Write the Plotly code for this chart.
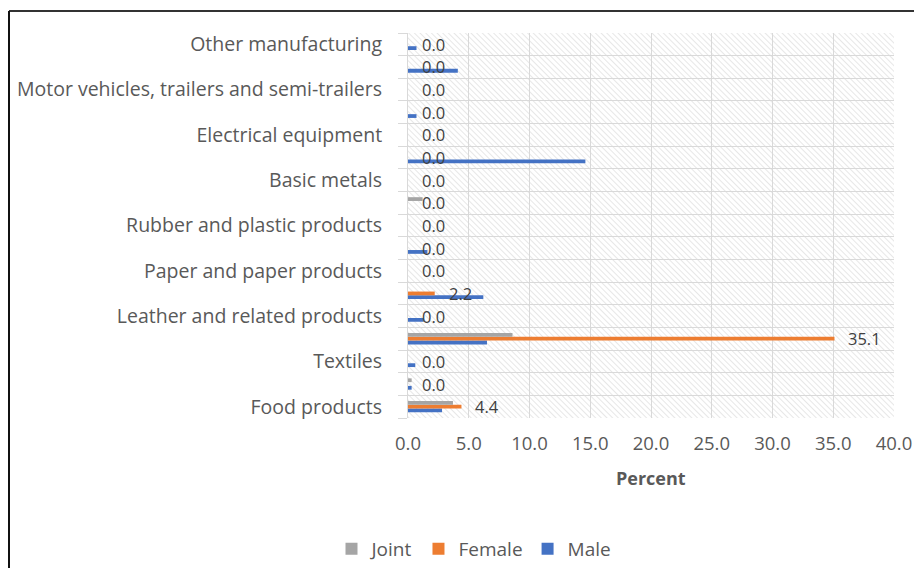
import base64
import plotly.graph_objects as go

# Manufacturing sub-sectors, bottom to top
categories = [
    "Food products",
    "Beverages",
    "Textiles",
    "Wearing apparel",
    "Leather and related products",
    "Wood and products of wood",
    "Paper and paper products",
    "Printing and recorded media",
    "Rubber and plastic products",
    "Other non-metallic mineral products",
    "Basic metals",
    "Fabricated metal products",
    "Electrical equipment",
    "Machinery and equipment",
    "Motor vehicles, trailers and semi-trailers",
    "Furniture",
    "Other manufacturing",
]
# only every second sector is labelled on the axis
labelled = categories[::2]

joint = [3.7, 0.3, 0.0, 8.6, 0.0, 0.0, 0.0, 0.0, 0.0, 1.2, 0.0, 0.0, 0.0, 0.0, 0.0, 0.0, 0.0]
female = [4.4, 0.0, 0.0, 35.1, 0.0, 2.2, 0.0, 0.0, 0.0, 0.0, 0.0, 0.0, 0.0, 0.0, 0.0, 0.0, 0.0]
male = [2.8, 0.3, 0.6, 6.5, 1.3, 6.2, 0.0, 1.6, 0.0, 0.0, 0.0, 14.6, 0.0, 0.7, 0.0, 4.1, 0.7]

x_ticks = [0, 5, 10, 15, 20, 25, 30, 35, 40]

W, H = 914, 568
ML, MR, MT, MB = 408, 20, 33, 150
PW, PH = W - ML - MR, H - MT - MB

TXT = "#595959"
GRID = "#d9d9d9"
FONT = "Open Sans"

fig = go.Figure()

# Male drawn first so it sits at the bottom of each group
fig.add_trace(go.Bar(y=categories, x=male, name="Male", orientation="h",
                     marker=dict(color="#4472C4", line=dict(width=0))))
fig.add_trace(go.Bar(y=categories, x=female, name="Female", orientation="h",
                     marker=dict(color="#ED7D31", line=dict(width=0))))
fig.add_trace(go.Bar(y=categories, x=joint, name="Joint", orientation="h",
                     marker=dict(color="#A5A5A5", line=dict(width=0))))

# helper axis carrying the category-boundary grid lines
fig.add_trace(go.Scatter(x=[], y=[], yaxis="y2", showlegend=False, hoverinfo="skip"))

# value labels for the female series (middle bar of each group)
value_labels = [
    dict(x=v, y=c, xref="x", yref="y", text=f"{v:.1f}", showarrow=False,
         xanchor="left", yanchor="middle", xshift=12,
         font=dict(family=FONT, size=16.5, color="#404040"))
    for c, v in zip(categories, female)
]

# diagonal hatch for the plotting area
svg = (f'<svg xmlns="http://www.w3.org/2000/svg" width="{PW}" height="{PH}">'
       '<defs><pattern id="h" width="4" height="4" patternUnits="userSpaceOnUse" '
       'patternTransform="rotate(-45)">'
       '<line x1="0" y1="0" x2="0" y2="4" stroke="#cfcfcf" stroke-width="1"/>'
       '</pattern></defs>'
       '<rect width="100%" height="100%" fill="url(#h)"/></svg>')
hatch = "data:image/svg+xml;base64," + base64.b64encode(svg.encode()).decode()


def px_x(p):
    return (p - ML) / PW


def px_y(p):
    return (H - MB - p) / PH


fig.update_layout(
    width=W, height=H,
    margin=dict(l=ML, r=MR, t=MT, b=MB, autoexpand=False),
    paper_bgcolor="white",
    plot_bgcolor="rgba(0,0,0,0)",
    barmode="group",
    bargap=0.5,
    bargroupgap=0,
    font=dict(family=FONT, size=18, color=TXT),
    xaxis=dict(
        range=[0, 40], tickvals=x_ticks,
        ticktext=[f"{v:.1f}" for v in x_ticks],
        showgrid=True, gridcolor=GRID, gridwidth=1,
        zeroline=False, showline=False, ticks="",
        ticklabelstandoff=12,
        tickfont=dict(family=FONT, size=18.5, color=TXT),
    ),
    yaxis=dict(
        categoryorder="array", categoryarray=categories,
        range=[-0.5, len(categories) - 0.5],
        tickvals=labelled, ticktext=labelled,
        showgrid=False, zeroline=False,
        showline=True, linecolor=GRID, linewidth=1,
        ticks="", ticklabelstandoff=21,
        tickfont=dict(family=FONT, size=19.5, color=TXT),
    ),
    yaxis2=dict(
        overlaying="y", side="left",
        range=[-0.5, len(categories) - 0.5],
        tickvals=[i - 0.5 for i in range(len(categories) + 1)],
        showticklabels=False, ticks="outside", ticklen=9, tickcolor=GRID,
        showgrid=True, gridcolor=GRID, gridwidth=1,
        zeroline=False, showline=False,
    ),
    legend=dict(
        orientation="h", traceorder="reversed",
        xref="container", yref="container",
        x=474 / W, xanchor="center", y=1 - 549 / H, yanchor="middle",
        font=dict(family=FONT, size=19, color=TXT),
        bgcolor="rgba(0,0,0,0)", itemwidth=30,
    ),
    images=[dict(source=hatch, xref="paper", yref="paper", x=0, y=1,
                 sizex=1, sizey=1, sizing="stretch", layer="below",
                 xanchor="left", yanchor="top")],
    annotations=value_labels + [
        dict(text="<b>Percent</b>", xref="paper", yref="paper",
             x=0.5, y=px_y(478), xanchor="center", yanchor="middle",
             showarrow=False, font=dict(family=FONT, size=18, color=TXT)),
    ],
    shapes=[
        dict(type="line", xref="paper", yref="paper",
             x0=px_x(9), x1=px_x(W + 5), y0=px_y(11), y1=px_y(11),
             line=dict(color="#333333", width=2)),
        dict(type="line", xref="paper", yref="paper",
             x0=px_x(9), x1=px_x(9), y0=px_y(11), y1=px_y(H + 5),
             line=dict(color="#111111", width=2)),
    ],
)

fig.write_html("out.html")
